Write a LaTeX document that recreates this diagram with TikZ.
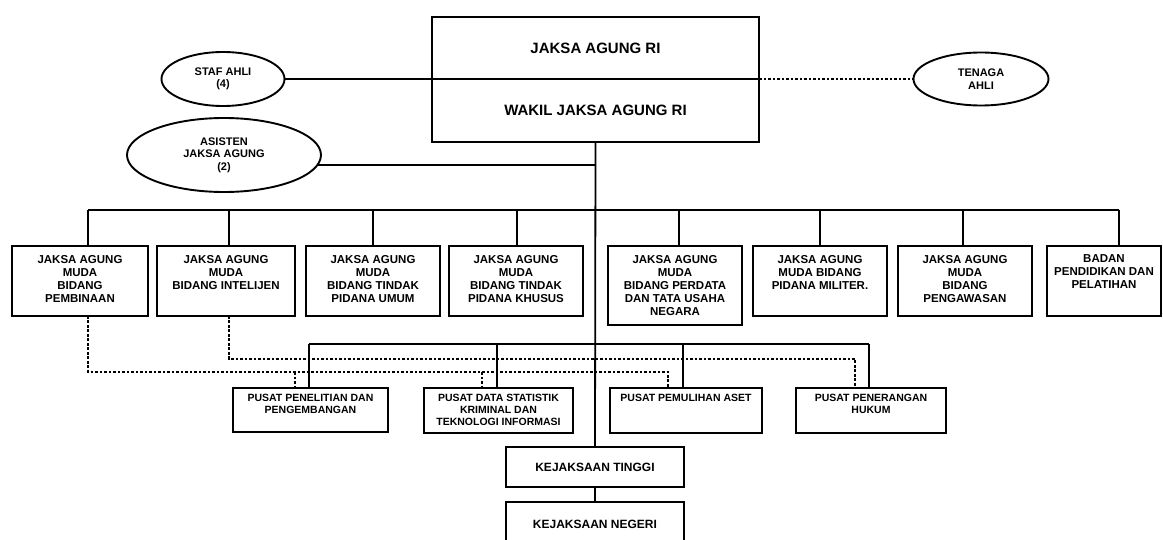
\documentclass[tikz,border=0pt]{standalone}
\usepackage{fontspec}
\setmainfont{Liberation Sans}
\usetikzlibrary{shapes.geometric}
\newcommand{\tb}[4]{\parbox[c][#2][t]{#1}{\centering\vspace*{#3}#4\par}}
\tikzset{
  frame/.style={draw, line width=2.3pt, inner sep=0pt, outer sep=0pt, anchor=north west},
  headbox/.style={frame, font=\fontsize{15}{17}\selectfont\bfseries, align=center},
  jbox/.style={frame, font=\fontsize{11.5}{13}\selectfont\bfseries},
  pbox/.style={frame, font=\fontsize{10.5}{11.8}\selectfont\bfseries},
  kbox/.style={frame, font=\fontsize{12}{14}\selectfont\bfseries, align=center},
  link/.style={line width=1.8pt},
  dotlink/.style={line width=1.8pt, dash pattern=on 2.6pt off 1.9pt},
  oval/.style={draw, ellipse, line width=1.9pt, inner sep=0pt, outer sep=0pt, align=center,
    font=\fontsize{11}{12.5}\selectfont\bfseries},
}
\begin{document}
\begin{tikzpicture}[x=1pt, y=-1pt]
\useasboundingbox (0,0) rectangle (1163,540);
\clip (0,0) rectangle (1163,540);
% head
\node[headbox, minimum width=327pt, minimum height=62pt] (ja) at (432,17) {JAKSA AGUNG RI};
\node[headbox, minimum width=327pt, minimum height=63pt] (jw) at (432,79) {WAKIL JAKSA AGUNG RI};
% ellipses
\node[oval, minimum width=123pt, minimum height=54pt] (staf) at (223,79) {STAF AHLI\\(4)};
\node[oval, minimum width=194pt, minimum height=74pt] (asis) at (224,155) {ASISTEN\\JAKSA AGUNG\\(2)};
\node[oval, minimum width=135pt, minimum height=53pt] (tena) at (981,79) {TENAGA\\AHLI};
\draw[link] (staf.east) -- (staf.east -| ja.west);
\draw[dotlink] (tena.west -| ja.east) -- (tena.west);
% jaksa agung muda row
\node[jbox] (b1) at (12,246) {\tb{136pt}{70pt}{9pt}{JAKSA AGUNG\\MUDA\\BIDANG\\PEMBINAAN}};
\node[jbox] (b2) at (157,246) {\tb{138pt}{70pt}{9pt}{JAKSA AGUNG\\MUDA\\BIDANG INTELIJEN}};
\node[jbox] (b3) at (306,246) {\tb{134pt}{70pt}{9pt}{JAKSA AGUNG\\MUDA\\BIDANG TINDAK\\PIDANA UMUM}};
\node[jbox] (b4) at (449,246) {\tb{134pt}{70pt}{9pt}{JAKSA AGUNG\\MUDA\\BIDANG TINDAK\\PIDANA KHUSUS}};
\node[jbox] (b5) at (608,246) {\tb{134pt}{79pt}{9pt}{JAKSA AGUNG\\MUDA\\BIDANG PERDATA\\DAN TATA USAHA\\NEGARA}};
\node[jbox] (b6) at (753,246) {\tb{134pt}{70pt}{9pt}{JAKSA AGUNG\\MUDA BIDANG\\PIDANA MILITER.}};
\node[jbox] (b7) at (898,246) {\tb{134pt}{70pt}{9pt}{JAKSA AGUNG\\MUDA\\BIDANG\\PENGAWASAN}};
\node[jbox] (b8) at (1047,246) {\tb{114pt}{70pt}{9pt}{BADAN\\PENDIDIKAN DAN\\PELATIHAN}};
% pusat row
\node[pbox] (p1) at (233,388) {\tb{155pt}{44pt}{6.5pt}{PUSAT PENELITIAN DAN\\PENGEMBANGAN}};
\node[pbox] (p2) at (424,388) {\tb{149pt}{45pt}{6.5pt}{PUSAT DATA STATISTIK\\KRIMINAL DAN\\TEKNOLOGI INFORMASI}};
\node[pbox] (p3) at (610,388) {\tb{152pt}{45pt}{6.5pt}{PUSAT PEMULIHAN ASET}};
\node[pbox] (p4) at (796,388) {\tb{150pt}{45pt}{6.5pt}{PUSAT PENERANGAN\\HUKUM}};
% kejaksaan
\node[kbox, minimum width=178pt, minimum height=40pt] (kt) at (506,447) {KEJAKSAAN TINGGI};
\node[kbox, minimum width=178pt, minimum height=44pt] (kn) at (506,502) {KEJAKSAAN NEGERI};
% main line
\draw[link] (jw.south) -- (kt.north);
\draw[link] (kt.south) -- (kn.north);
\draw[link] (asis.-6) -- (asis.-6 -| jw.south);
% upper bus
\coordinate (d1) at (88,210);
\coordinate (d2) at (229,210);
\coordinate (d3) at (373,210);
\coordinate (d4) at (517,210);
\coordinate (d5) at (679,210);
\coordinate (d6) at (820,210);
\coordinate (d7) at (963,210);
\coordinate (d8) at (1119,210);
\draw[link] (d1) -- (d8);
\foreach \i in {1,...,8} {\draw[link] (d\i) -- (d\i |- b\i.north);}
% pusat bus
\coordinate (q1) at (309,344);
\coordinate (q2) at (497,344);
\coordinate (q3) at (683,344);
\coordinate (q4) at (869,344);
\draw[link] (q1) -- (q4);
\foreach \i in {1,...,4} {\draw[link] (q\i) -- (q\i |- p\i.north);}
% dashed coordination lines
\coordinate (u0) at (229,359);
\coordinate (u1) at (855,359);
\draw[dotlink] (b2.south -| u0) -- (u0) -- (u1) -- (u1 |- p4.north);
\coordinate (l0) at (88,372);
\coordinate (l1) at (668,372);
\draw[dotlink] (b1.south -| l0) -- (l0) -- (l1) -- (l1 |- p3.north);
\coordinate (lp1) at (295,372);
\coordinate (lp2) at (482,372);
\draw[dotlink] (lp1) -- (lp1 |- p1.north);
\draw[dotlink] (lp2) -- (lp2 |- p2.north);
\end{tikzpicture}
\end{document}
